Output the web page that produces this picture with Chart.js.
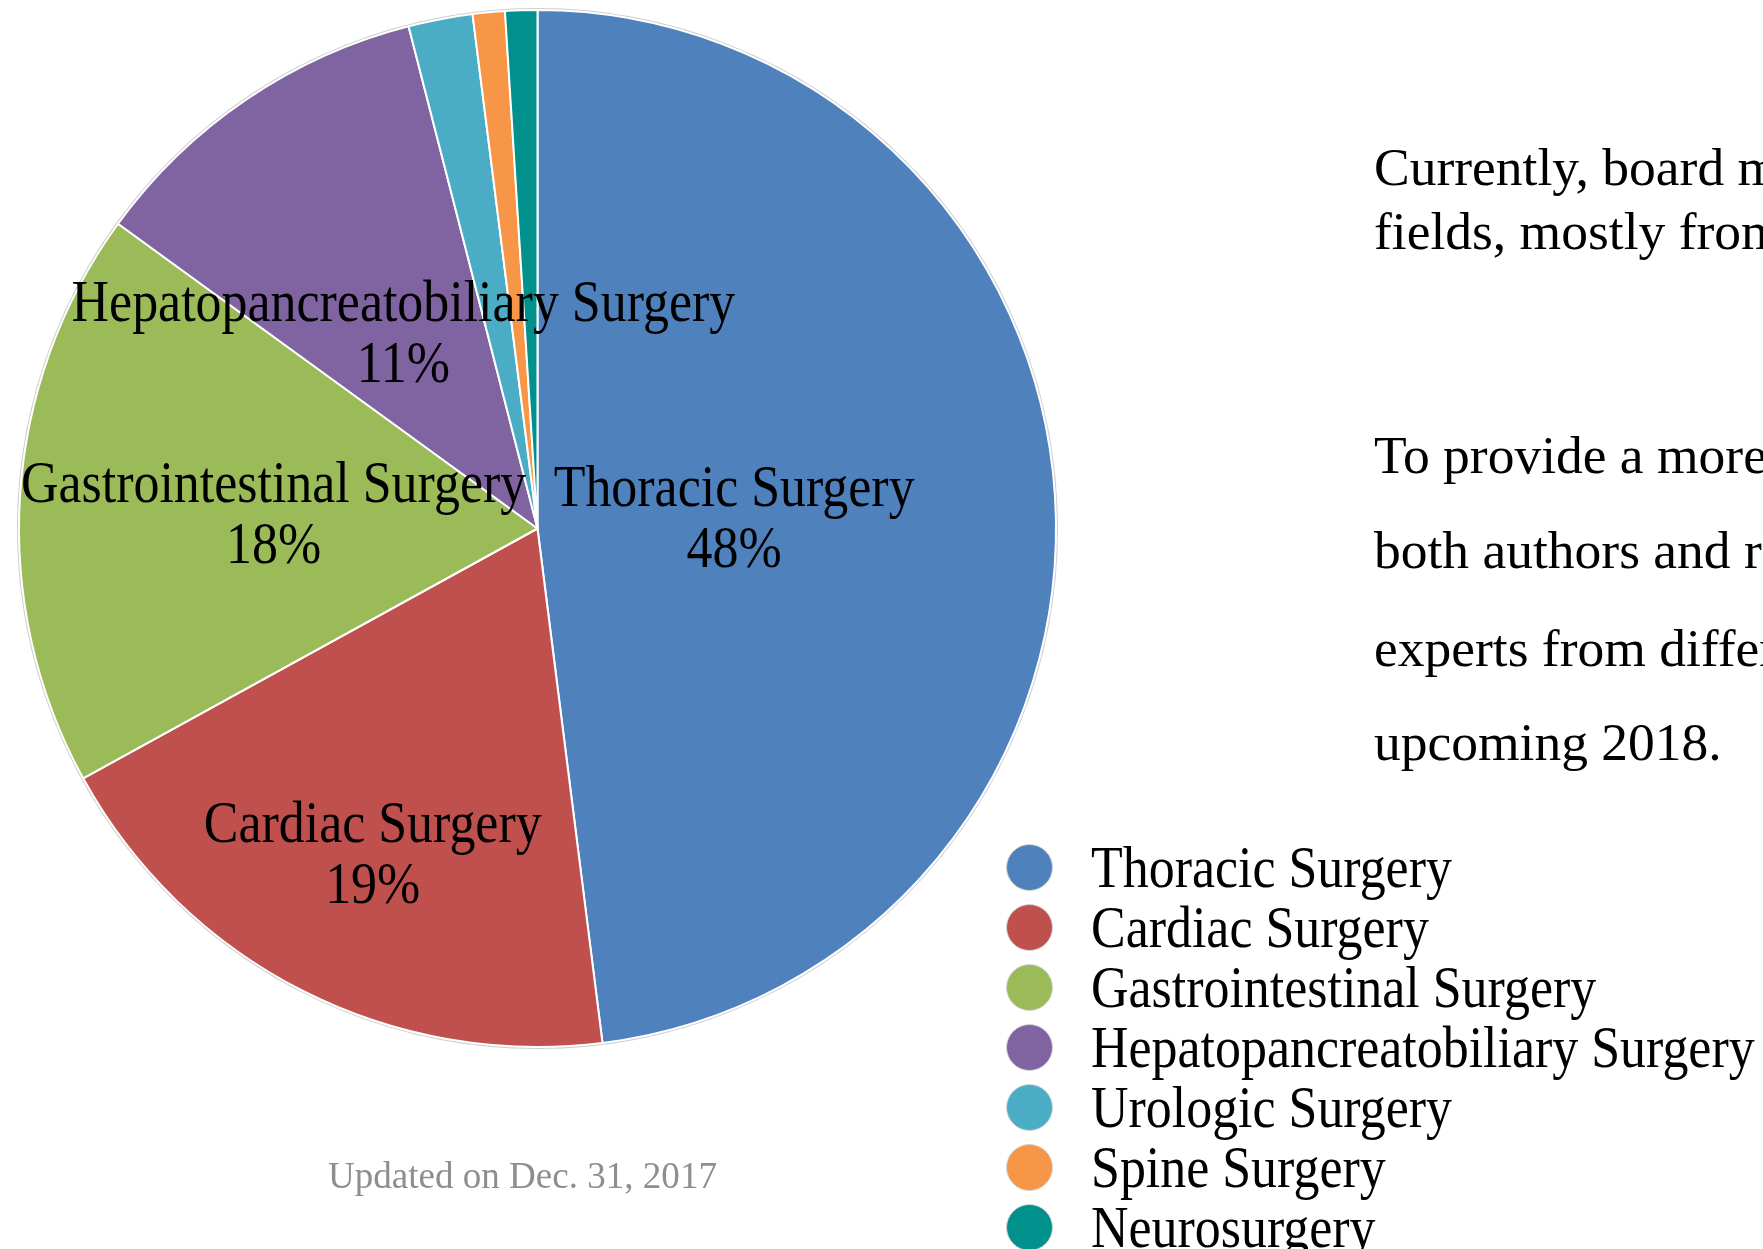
<!DOCTYPE html>
<html>
<head>
<meta charset="utf-8">
<title>Board members by specialty</title>
<script src="https://cdn.jsdelivr.net/npm/chart.js@4.4.1/dist/chart.umd.min.js"></script>
<style>
  html, body { margin: 0; padding: 0; background: #fff; overflow: hidden; }
  #page {
    position: relative; width: 1763px; height: 1249px; overflow: hidden;
    font-family: "Liberation Serif", "Times New Roman", serif; color: #000;
  }
  #pie { position: absolute; left: 0; top: 0; }
  .para { position: absolute; left: 1374px; font-size: 53.5px; line-height: 55px; white-space: nowrap; }
  #legend { position: absolute; left: 1006px; top: 837px; margin: 0; padding: 0; list-style: none; }
  #legend li { height: 60px; display: flex; align-items: center; white-space: nowrap; }
  #legend .dot { width: 47px; height: 47px; border-radius: 50%; border: 1px solid #d4d4d4; box-sizing: border-box; flex: none; }
  #legend .txt {
    font-size: 59px; line-height: 60px; margin-left: 38px;
    transform: scaleX(0.88); transform-origin: left center;
  }
  #caption {
    position: absolute; left: 328px; top: 1152px; font-size: 38px; line-height: 46px;
    color: #8e8e8e; white-space: nowrap; transform: scaleX(0.975); transform-origin: left center;
  }
</style>
</head>
<body>
<div id="page">
  <canvas id="pie" width="1763" height="1249"></canvas>

  <div class="para" style="top:140px">Currently, board members</div>
  <div class="para" style="top:204px">fields, mostly from</div>
  <div class="para" style="top:428px">To provide a more</div>
  <div class="para" style="top:523px">both authors and re</div>
  <div class="para" style="top:621px">experts from differ</div>
  <div class="para" style="top:715px">upcoming 2018.</div>

  <ul id="legend"></ul>
  <div id="caption">Updated on Dec. 31, 2017</div>
</div>

<script>
"use strict";

const categories = [
    'Thoracic Surgery',
    'Cardiac Surgery',
    'Gastrointestinal Surgery',
    'Hepatopancreatobiliary Surgery',
    'Urologic Surgery',
    'Spine Surgery',
    'Neurosurgery'
];
const shares = [48, 19, 18, 11, 2, 1, 1];
const sliceColors = ['#4F81BD', '#C0504D', '#9BBB59', '#8064A2', '#4BACC6', '#F79646', '#00918C'];

// how far out (share of radius) each in-slice label sits
const labelRadius = [0.38, 0.70, 0.51, 0.46, 0, 0, 0];

// thin grey rim around the whole pie
const pieRim = {
    id: 'pieRim',
    beforeDatasetsDraw(chart) {
        const arc = chart.getDatasetMeta(0).data[0];
        if (!arc) return;
        const ctx = chart.ctx;
        ctx.save();
        ctx.beginPath();
        ctx.arc(arc.x, arc.y, arc.outerRadius + 1, 0, Math.PI * 2);
        ctx.strokeStyle = '#cfcfcf';
        ctx.lineWidth = 2;
        ctx.stroke();
        ctx.restore();
    }
};

// name + percent written inside the bigger slices
const sliceLabels = {
    id: 'sliceLabels',
    afterDatasetsDraw(chart, args, opts) {
        const ctx = chart.ctx;
        const meta = chart.getDatasetMeta(0);
        ctx.save();
        ctx.font = opts.size + 'px ' + opts.family;
        ctx.fillStyle = '#000';
        ctx.textAlign = 'center';
        ctx.textBaseline = 'middle';
        meta.data.forEach((arc, i) => {
            if (shares[i] < 5) return;
            const mid = (arc.startAngle + arc.endAngle) / 2;
            const r = arc.outerRadius * labelRadius[i];
            ctx.save();
            ctx.translate(arc.x + Math.cos(mid) * r, arc.y + Math.sin(mid) * r + opts.shift);
            ctx.scale(opts.squeeze, 1);
            ctx.fillText(categories[i], 0, -opts.gap / 2);
            ctx.fillText(shares[i] + '%', 0, opts.gap / 2);
            ctx.restore();
        });
        ctx.restore();
    }
};

// legend as html list, built from the chart's own legend items
const htmlLegend = {
    id: 'htmlLegend',
    afterUpdate(chart) {
        const list = document.getElementById('legend');
        list.innerHTML = '';
        const items = chart.options.plugins.legend.labels.generateLabels(chart);
        items.forEach(item => {
            const li = document.createElement('li');
            const dot = document.createElement('span');
            dot.className = 'dot';
            dot.style.background = item.fillStyle;
            const txt = document.createElement('span');
            txt.className = 'txt';
            txt.textContent = item.text;
            li.appendChild(dot);
            li.appendChild(txt);
            list.appendChild(li);
        });
    }
};

new Chart(document.getElementById('pie'), {
    type: 'pie',
    data: {
        labels: categories,
        datasets: [{
            data: shares,
            backgroundColor: sliceColors,
            borderColor: '#ffffff',
            borderWidth: 2
        }]
    },
    options: {
        responsive: false,
        animation: false,
        layout: {
            padding: { left: 18, top: 9, right: 706, bottom: 201 }
        },
        plugins: {
            legend: { display: false },
            tooltip: { enabled: false },
            sliceLabels: {
                size: 59,
                family: '"Liberation Serif", "Times New Roman", serif',
                squeeze: 0.88,
                gap: 61,
                shift: 5
            }
        }
    },
    plugins: [pieRim, sliceLabels, htmlLegend]
});
</script>
</body>
</html>
